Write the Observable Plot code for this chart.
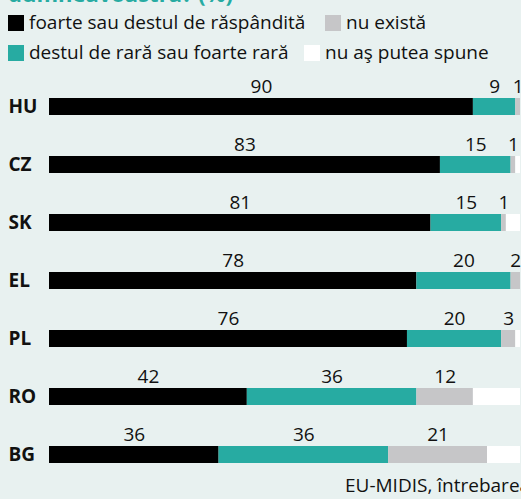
<!DOCTYPE html>
<html>
<head>
<meta charset="utf-8">
<script src="https://cdn.jsdelivr.net/npm/d3@7"></script>
<script src="https://cdn.jsdelivr.net/npm/@observablehq/plot@0.6"></script>
<style>
  html, body { margin: 0; padding: 0; background: #e8f1f0; }
  #wrap { position: relative; width: 521px; height: 499px; overflow: hidden; background: #e8f1f0;
          font-family: "Open Sans", sans-serif; color: #111; }
  .title { position: absolute; left: 8px; top: -21px; font-size: 22px; font-weight: 700; color: #27aba2; white-space: nowrap; line-height: 28px; }
  .leg { position: absolute; font-size: 19px; white-space: nowrap; line-height: 20px; }
  .sw { display: inline-block; width: 16px; height: 16px; vertical-align: -2px; margin-right: 5px; }
  .caption { position: absolute; left: 345px; top: 472px; font-size: 19px; white-space: nowrap; }
  #chart { position: absolute; left: 0; top: 68px; }
</style>
</head>
<body>
<div id="wrap">
  <div class="title">dumneavoastră? (%)</div>
  <div id="legend"></div>
  <div id="chart"></div>
  <div class="caption">EU-MIDIS, întrebarea</div>
</div>
<script>
const countries = ["HU", "CZ", "SK", "EL", "PL", "RO", "BG"];
const categories = ["foarte sau destul de răspândită", "destul de rară sau foarte rară", "nu există", "nu aş putea spune"];
const colors = ["#000000", "#27aba2", "#c6c6c8", "#ffffff"];
const widespread = [90, 83, 81, 78, 76, 42, 36];
const rare = [9, 15, 15, 20, 20, 36, 36];
const none = [1, 1, 1, 2, 3, 12, 21];
const dontKnow = [0, 1, 3, 0, 1, 10, 7];

const series = [widespread, rare, none, dontKnow];
const table = [];
countries.forEach((c, i) => {
  let acc = 0;
  series.forEach((s, k) => {
    const v = s[i];
    table.push({country: c, cat: categories[k], value: v, x1: acc, x2: acc + v, mid: acc + v / 2, labeled: k < 3});
    acc += v;
  });
});

// legend
const legendPos = [
  {left: 8, top: 12}, {left: 8, top: 42}, {left: 325, top: 12}, {left: 304, top: 42}
];
const legend = document.getElementById("legend");
categories.forEach((c, k) => {
  const d = document.createElement("div");
  d.className = "leg";
  d.style.left = legendPos[k].left + "px";
  d.style.top = legendPos[k].top + "px";
  d.innerHTML = `<span class="sw" style="background:${colors[k]}"></span>${c}`;
  legend.appendChild(d);
});

const chart = Plot.plot({
  width: 521,
  height: 400,
  marginLeft: 49,
  marginRight: 1,
  marginTop: 0,
  marginBottom: 0,
  style: {background: "transparent", fontFamily: "Open Sans, sans-serif"},
  x: {domain: [0, 100], axis: null},
  y: {domain: countries, range: [8.33, 416.67], paddingInner: 0.715, paddingOuter: 0.3575, axis: null},
  color: {domain: categories, range: colors},
  marks: [
    Plot.barX(table, {x1: "x1", x2: "x2", y: "country", fill: "cat"}),
    Plot.text(table.filter(d => d.labeled), {x: "mid", y: "country", text: d => String(d.value), dy: -14, lineAnchor: "bottom", textAnchor: "middle", fontSize: 19, fill: "#111"}),
    Plot.text(countries, {y: d => d, text: d => d, frameAnchor: "left", textAnchor: "start", dx: -41, fontSize: 19, fontWeight: 700, fill: "#111"})
  ]
});
document.getElementById("chart").appendChild(chart);
</script>
</body>
</html>
